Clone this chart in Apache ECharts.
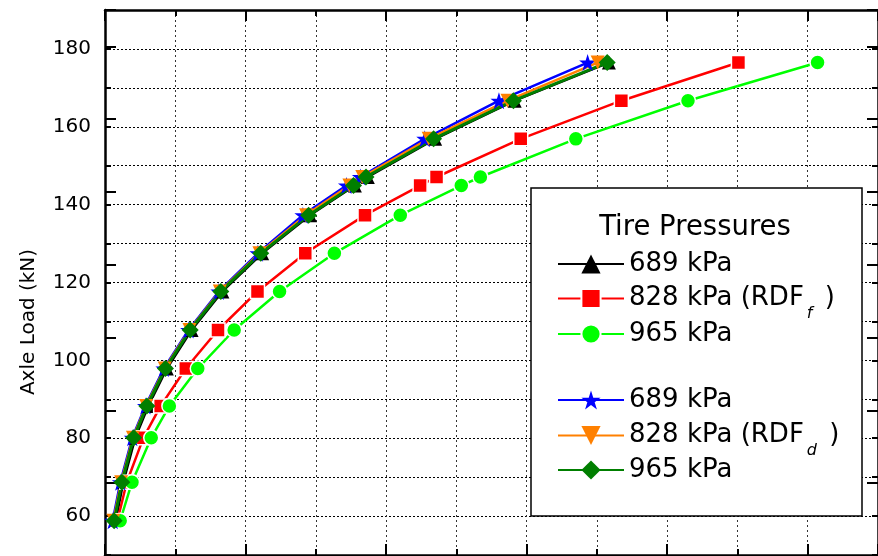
<!DOCTYPE html>
<html>
<head>
<meta charset="utf-8">
<script src="https://cdn.jsdelivr.net/npm/echarts@6/dist/echarts.min.js"></script>
<style>
html, body { margin: 0; padding: 0; background: #fff; }
#main { width: 878px; height: 556px; }
</style>
</head>
<body>
<div id="main"></div>
<script>
// axle load levels (kN), shared by all curves
const loads = [58.8, 68.7, 80.1, 88.3, 97.9, 107.8, 117.7, 127.5, 137.3, 144.9, 147.1, 156.9, 166.7, 176.5];
// x values (axis labels are cropped in the original)
const f689 = [0.076, 0.130, 0.215, 0.308, 0.440, 0.616, 0.835, 1.118, 1.458, 1.778, 1.870, 2.349, 2.915, 3.585];
const f828 = [0.088, 0.155, 0.273, 0.396, 0.575, 0.804, 1.085, 1.425, 1.850, 2.242, 2.359, 2.958, 3.674, 4.507];
const f965 = [0.108, 0.192, 0.329, 0.458, 0.660, 0.919, 1.242, 1.632, 2.101, 2.535, 2.671, 3.350, 4.148, 5.070];
const d689 = [0.055, 0.109, 0.194, 0.288, 0.419, 0.595, 0.810, 1.088, 1.408, 1.718, 1.817, 2.275, 2.803, 3.434];
const d828 = [0.060, 0.115, 0.199, 0.293, 0.425, 0.601, 0.817, 1.099, 1.430, 1.739, 1.831, 2.303, 2.864, 3.505];
const d965 = [0.065, 0.120, 0.204, 0.298, 0.430, 0.606, 0.824, 1.108, 1.449, 1.768, 1.857, 2.338, 2.906, 3.573];
const yTicks = [60, 80, 100, 120, 140, 160, 180];

const names = ['689f', '828f', '965f', '689d', '828d', '965d'];
const legendText = {
  '689f': '{m|689 kPa}',
  '828f': '{m|828 kPa (RDF}{s|f}{m| )}',
  '965f': '{m|965 kPa}',
  '689d': '{m|689 kPa}',
  '828d': '{m|828 kPa (RDF}{s|d}{m| )}',
  '965d': '{m|965 kPa}',
};
// one legend per row so the spacing is exact
// (rows with a subscript have a taller text box, hence the smaller top)
const legendTops = [251, 275, 321, 387, 412, 457];

const FONT = '"DejaVu Sans", "Noto Sans CJK JP", sans-serif';
const STAR = 'path://M10,0L12.245,6.91L19.511,6.91L13.633,11.18L15.878,18.09L10,13.82L4.122,18.09L6.367,11.18L0.489,6.91L7.755,6.91Z';
const DOWN = 'path://M0,0L20,0L10,18Z';

let chart = echarts.init(document.getElementById('main'));

function pairs(xs) {
  return xs.map((x, i) => [x, loads[i]]);
}

function mkSeries(name, xs, color, symbol, size, white, width) {
  return {
    name: name,
    type: 'line',
    xAxisIndex: 0,
    yAxisIndex: 0,
    data: pairs(xs),
    symbol: symbol,
    symbolSize: size,
    showSymbol: true,
    lineStyle: { color: color, width: width || 2.5 },
    itemStyle: {
      color: color,
      borderColor: white ? '#fff' : color,
      borderWidth: white ? 1.5 : 0,
    },
  };
}

const tickStyle = { color: '#000', width: 2 };
const axisLineStyle = { color: '#000', width: 2.5 };

const legends = names.map((n, i) => ({
  data: [n],
  orient: 'vertical',
  left: 557,
  top: legendTops[i],
  itemWidth: 66,
  itemHeight: 24,
  padding: 0,
  selectedMode: false,
  z: 5,
  formatter: (name) => legendText[name],
  textStyle: {
    color: '#000',
    fontFamily: FONT,
    fontSize: 26,
    rich: {
      m: { fontFamily: FONT, fontSize: 26, lineHeight: 48, color: '#000' },
      s: { fontFamily: FONT, fontSize: 16, fontStyle: 'italic', lineHeight: 16, padding: [31, 4, 0, 3], color: '#000' },
    },
  },
}));

let option = {
  animation: false,
  backgroundColor: '#fff',
  textStyle: { fontFamily: FONT },
  grid: [
    { left: 105, right: -8, top: 10, bottom: 1 },
    { left: 105, right: -8, top: 10, bottom: 1 },
    { left: 105, right: -8, top: 10, bottom: -38 },
  ],
  xAxis: [
    {
      gridIndex: 0, type: 'value', position: 'bottom', min: 0, max: 5.5, interval: 0.5,
      axisLine: { onZero: false, lineStyle: axisLineStyle },
      axisTick: { inside: true, length: 6, lineStyle: tickStyle },
      axisLabel: { show: false },
      splitLine: { show: true, lineStyle: { color: '#333', type: [2, 3], width: 1 } },
    },
    {
      gridIndex: 0, type: 'value', position: 'top', min: 0, max: 5.5, interval: 0.5,
      axisLine: { onZero: false, lineStyle: axisLineStyle },
      axisTick: { inside: true, length: 6, lineStyle: tickStyle },
      axisLabel: { show: false },
      splitLine: { show: false },
    },
    {
      gridIndex: 1, type: 'value', position: 'bottom', min: 0, max: 5.5, interval: 1,
      axisLine: { show: false },
      axisTick: { inside: true, length: 11, lineStyle: tickStyle },
      axisLabel: { show: false },
      splitLine: { show: false },
    },
    {
      gridIndex: 1, type: 'value', position: 'top', min: 0, max: 5.5, interval: 1,
      axisLine: { show: false },
      axisTick: { inside: true, length: 11, lineStyle: tickStyle },
      axisLabel: { show: false },
      splitLine: { show: false },
    },
    { gridIndex: 2, type: 'value', show: false, min: 0, max: 5.5 },
  ],
  yAxis: [
    {
      gridIndex: 0, type: 'value', position: 'left', min: 50, max: 190, interval: 10,
      axisLine: { onZero: false, lineStyle: axisLineStyle },
      axisTick: { inside: true, length: 6, lineStyle: tickStyle },
      axisLabel: {
        margin: 14,
        color: '#000',
        fontFamily: FONT,
        fontSize: 20,
        formatter: (v) => (yTicks.includes(v) ? String(v) : ''),
      },
      splitLine: { show: true, lineStyle: { color: '#000', type: [2, 2], width: 1 } },
    },
    {
      gridIndex: 0, type: 'value', position: 'right', min: 50, max: 190, interval: 10,
      axisLine: { onZero: false, lineStyle: axisLineStyle },
      axisTick: { inside: true, length: 6, lineStyle: tickStyle },
      axisLabel: { show: false },
      splitLine: { show: false },
    },
    { gridIndex: 1, type: 'value', show: false, min: 50, max: 190 },
    {
      gridIndex: 2, type: 'value', position: 'left', min: 40, max: 190, interval: 20,
      axisLine: { show: false },
      axisTick: { inside: true, length: 11, lineStyle: tickStyle },
      axisLabel: { show: false },
      splitLine: { show: false },
    },
    {
      gridIndex: 2, type: 'value', position: 'right', min: 40, max: 190, interval: 20,
      axisLine: { show: false },
      axisTick: { inside: true, length: 11, lineStyle: tickStyle },
      axisLabel: { show: false },
      splitLine: { show: false },
    },
  ],
  legend: legends,
  graphic: [
    {
      type: 'rect',
      z: 3,
      shape: { x: 531, y: 188, width: 331, height: 328 },
      style: { fill: '#fff', stroke: '#000', lineWidth: 1.5 },
    },
    {
      type: 'text',
      z: 5,
      x: 695,
      y: 228,
      style: { text: 'Tire Pressures', fontFamily: FONT, fontSize: 27.5, fill: '#000', align: 'center', verticalAlign: 'middle' },
    },
    {
      type: 'text',
      z: 5,
      x: 29,
      y: 322,
      rotation: Math.PI / 2,
      style: { text: 'Axle Load (kN)', fontFamily: FONT, fontSize: 20, fill: '#000', align: 'center', verticalAlign: 'middle' },
    },
  ],
  series: [
    mkSeries('689f', f689, '#000000', 'triangle', 14, false),
    mkSeries('828f', f828, '#ff0000', 'rect', 14, true),
    mkSeries('965f', f965, '#00ff00', 'circle', 15, true),
    mkSeries('689d', d689, '#0000ff', STAR, 17, false),
    mkSeries('828d', d828, '#ff8000', DOWN, 14, false),
    mkSeries('965d', d965, '#007f00', 'diamond', 17, false, 3),
  ],
};

if (option && typeof option === 'object') {
  chart.setOption(option);
}
</script>
</body>
</html>
